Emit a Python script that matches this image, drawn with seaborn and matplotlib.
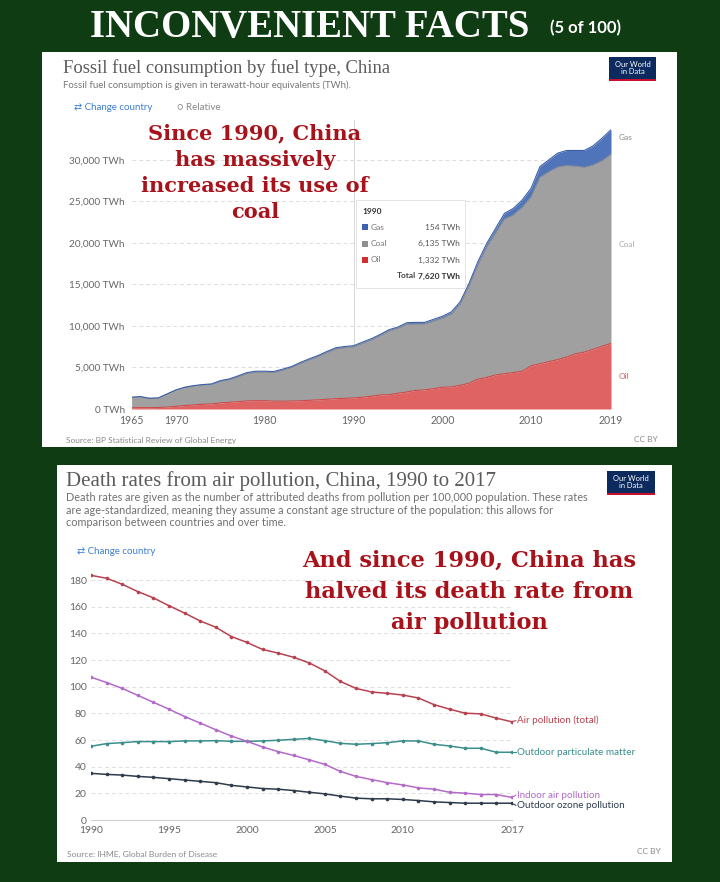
import numpy as np
import pandas as pd
import matplotlib
matplotlib.use("Agg")
import matplotlib.pyplot as plt
import seaborn as sns
from matplotlib.patches import Rectangle

sns.set_theme(style="white")
plt.rcParams['font.family'] = ['Lato', 'DejaVu Sans']

# ---------------- data: fossil fuel consumption (TWh) ----------------
fuel_years = list(range(1965, 2020))
oil_twh = [150, 170, 160, 180, 240, 330, 420, 490, 570, 620,
           730, 810, 880, 980, 1000, 1000, 950, 940, 960, 990,
           1050, 1100, 1170, 1250, 1290, 1332, 1420, 1540, 1690, 1730,
           1900, 2050, 2250, 2300, 2450, 2620, 2660, 2850, 3100, 3600,
           3800, 4100, 4250, 4400, 4550, 5200, 5450, 5700, 5950, 6250,
           6650, 6850, 7200, 7550, 7900]
coal_twh = [1250, 1308, 1118, 1138, 1555, 1945, 2165, 2285, 2315, 2330,
            2605, 2710, 2990, 3275, 3410, 3410, 3435, 3730, 4030, 4485,
            4860, 5205, 5620, 5975, 6090, 6135, 6470, 6760, 7120, 7650,
            7795, 8150, 7980, 7930, 8120, 8290, 8740, 9740, 11660, 13720,
            15670, 17090, 18610, 18960, 19740, 20320, 22450, 22850, 23180, 23050,
            22580, 22250, 22170, 22340, 22770]
gas_twh = [10, 12, 12, 12, 15, 25, 35, 45, 55, 70,
           85, 100, 120, 135, 140, 140, 125, 120, 120, 125,
           130, 135, 140, 145, 150, 154, 160, 160, 170, 170,
           175, 190, 200, 200, 220, 250, 280, 300, 340, 400,
           470, 560, 700, 800, 880, 1060, 1300, 1450, 1680, 1830,
           1900, 2030, 2330, 2730, 2960]
fuel_names = ["Oil", "Coal", "Gas"]
fuel_xticks = [1965, 1970, 1980, 1990, 2000, 2010, 2019]
fuel_yticks = [0, 5000, 10000, 15000, 20000, 25000, 30000]
fuel_ytick_labels = ["0 TWh", "5,000 TWh", "10,000 TWh", "15,000 TWh",
                     "20,000 TWh", "25,000 TWh", "30,000 TWh"]
tooltip_rows = [("Gas", "154 TWh"), ("Coal", "6,135 TWh"), ("Oil", "1,332 TWh")]
tooltip_total = "7,620 TWh"

# ---------------- data: death rates per 100,000 ----------------
death_years = list(range(1990, 2018))
air_total = [183.5, 181.3, 176.8, 171.3, 166.6, 160.7, 155.2, 149.3, 144.6, 137.6,
             133.2, 127.9, 125.2, 122.0, 117.8, 111.8, 103.9, 98.7, 96.0, 95.0,
             93.7, 91.5, 86.5, 83.1, 80.1, 79.6, 76.4, 73.6]
indoor_air = [107.1, 103.1, 98.7, 93.5, 88.3, 83.1, 77.6, 72.7, 67.7, 63.0,
              59.0, 54.8, 51.3, 48.4, 45.1, 41.7, 36.4, 32.7, 30.3, 28.0,
              26.3, 24.1, 23.1, 20.8, 20.1, 19.1, 19.1, 16.9]
outdoor_pm = [55.3, 57.3, 58.0, 58.8, 58.8, 58.8, 59.3, 59.3, 59.5, 59.0,
              59.0, 59.3, 59.8, 60.5, 61.2, 59.5, 57.5, 56.8, 57.3, 58.0,
              59.3, 59.3, 56.8, 55.5, 53.8, 53.8, 50.8, 50.8]
outdoor_ozone = [35.0, 34.2, 33.7, 32.7, 32.0, 31.0, 30.0, 29.0, 28.0, 26.0,
                 24.8, 23.6, 23.1, 22.1, 20.8, 19.6, 17.9, 16.4, 15.9, 15.9,
                 15.4, 14.6, 13.6, 13.1, 12.6, 12.6, 12.6, 12.6]
death_names = ["Air pollution (total)", "Outdoor particulate matter",
               "Indoor air pollution", "Outdoor ozone pollution"]
death_xticks = [1990, 1995, 2000, 2005, 2010, 2017]
death_yticks = [0, 20, 40, 60, 80, 100, 120, 140, 160, 180]

# ---------------- figure ----------------
W, H = 720, 882
BG = '#0f3c13'
fig = plt.figure(figsize=(7.2, 8.82), dpi=100, facecolor=BG)


def fx(x):
    return x / W


def fy(y):
    return 1 - y / H


def T(x, y, s, **kw):
    kw.setdefault('va', 'center')
    return fig.text(fx(x), fy(y), s, **kw)


def panel(x0, y0, x1, y1, color='white', z=-1):
    fig.add_artist(Rectangle((fx(x0), fy(y1)), (x1 - x0) / W, (y1 - y0) / H,
                             transform=fig.transFigure, facecolor=color,
                             edgecolor='none', zorder=z))


def logo(x0, y0, x1, y1):
    panel(x0, y0, x1, y1, '#0c2a5e', z=2)
    panel(x0, y1 - 2, x1, y1, '#c8102e', z=3)
    T((x0 + x1) / 2, (y0 + y1) / 2 - 1, "Our World\nin Data", color='white',
      fontsize=5.4, ha='center', linespacing=0.95, zorder=4)


SERIF = ['Liberation Serif', 'DejaVu Serif']
WIDE_SERIF = ['DejaVu Serif']
RED_TXT = '#a8121a'
GREY_T = '#5b5b5b'

# header
T(310, 28, "INCONVENIENT FACTS", color='white', fontsize=28, fontweight='bold',
  family=SERIF, ha='center')
T(585, 28, "(5 of 100)", color='white', fontsize=12, fontweight='bold', ha='center')

# ================= top panel =================
panel(42, 52, 677, 447)
logo(609, 57, 656, 81)
T(63, 68, "Fossil fuel consumption by fuel type, China", family=SERIF,
  fontsize=13.4, color=GREY_T)
T(63, 85, "Fossil fuel consumption is given in terawatt-hour equivalents (TWh).",
  fontsize=6.9, color='#777777')
T(74, 108, "⇄ Change country", fontsize=7, color='#3d7fd0')
T(177, 108, "○ Relative", fontsize=7, color='#888888')
T(66, 440, "Source: BP Statistical Review of Global Energy", fontsize=6, color='#8a8a8a')
T(658, 439, "CC BY", fontsize=6, color='#8a8a8a', ha='right')

ax1 = fig.add_axes([fx(131.6), fy(409), (611 - 131.6) / W, (409 - 120) / H])
ax1.set_facecolor('none')
c_oil, c_coal, c_gas = '#e06363', '#a0a0a0', '#4f74b9'
ax1.stackplot(fuel_years, oil_twh, coal_twh, gas_twh,
              colors=[c_oil, c_coal, c_gas], linewidth=0, zorder=2)
cum_oil = np.array(oil_twh)
cum_coal = cum_oil + np.array(coal_twh)
cum_gas = cum_coal + np.array(gas_twh)
edges = pd.DataFrame({'year': fuel_years * 3,
                      'value': np.concatenate([cum_oil, cum_coal, cum_gas]),
                      'fuel': sum([[n] * len(fuel_years) for n in fuel_names], [])})
sns.lineplot(data=edges, x='year', y='value', hue='fuel', ax=ax1,
             palette={'Oil': '#d04a4a', 'Coal': '#8e8e8e', 'Gas': '#3c5fa6'},
             linewidth=0.8, legend=False, zorder=3)
ax1.set_xlim(1965, 2019)
ax1.set_ylim(0, 34800)
ax1.set_yticks(fuel_yticks, labels=fuel_ytick_labels)
ax1.set_xticks(fuel_xticks, labels=[str(v) for v in fuel_xticks])
ax1.tick_params(axis='y', labelsize=7.2, labelcolor='#666666', length=0, pad=5)
ax1.tick_params(axis='x', labelsize=7.6, labelcolor='#666666', length=0, pad=4)
for yv in fuel_yticks[1:]:
    ax1.axhline(yv, color='#dcdcdc', lw=0.7, ls=(0, (4, 3)), zorder=1)
ax1.axvline(1990, color='#d8d8d8', lw=0.7, zorder=1)
for s in ax1.spines.values():
    s.set_visible(False)
ax1.set_xlabel('')
ax1.set_ylabel('')
# end labels
ax1.text(2019.9, cum_gas[-1] - 900, "Gas", fontsize=6, color='#8a8a8a', va='center', clip_on=False)
ax1.text(2019.9, (cum_oil[-1] + cum_coal[-1]) / 2 + 500, "Coal", fontsize=6, color='#aaaaaa', va='center', clip_on=False)
ax1.text(2019.9, cum_oil[-1] / 2, "Oil", fontsize=6, color='#d06060', va='center', clip_on=False)

# annotation
for i, line in enumerate(["Since 1990, China", "has massively",
                          "increased its use of", "coal"]):
    T(255, 133 + i * 26.5, line, family=WIDE_SERIF, fontsize=15, fontweight='bold',
      color=RED_TXT, ha='center', zorder=6)

# tooltip
fig.add_artist(Rectangle((fx(356), fy(288)), (465 - 356) / W, (288 - 200) / H,
                         transform=fig.transFigure, facecolor='white',
                         edgecolor='#e4e4e4', lw=0.7, zorder=5))
T(362, 212, "1990", fontsize=6, fontweight='bold', color='#333333', zorder=6)
sq_colors = {'Gas': '#3d63b0', 'Coal': '#8f8f8f', 'Oil': '#d03030'}
for i, (name, val) in enumerate(tooltip_rows):
    yy = 227 + i * 16.5
    panel(362, yy - 3, 368, yy + 3, sq_colors[name], z=6)
    T(371, yy, name, fontsize=6, color='#777777', zorder=6)
    T(460, yy, val, fontsize=6, color='#555555', ha='right', zorder=6)
T(416, 276, "Total", fontsize=6, fontweight='bold', color='#444444', ha='right', zorder=6)
T(460, 276, tooltip_total, fontsize=6, fontweight='bold', color='#333333', ha='right', zorder=6)

# ================= bottom panel =================
panel(57, 465, 672, 862)
logo(607, 471, 655, 495)
T(66, 481, "Death rates from air pollution, China, 1990 to 2017", family=SERIF,
  fontsize=15, color=GREY_T)
sub = ["Death rates are given as the number of attributed deaths from pollution per 100,000 population. These rates",
       "are age-standardized, meaning they assume a constant age structure of the population: this allows for",
       "comparison between countries and over time."]
for i, line in enumerate(sub):
    T(66, 498 + i * 12, line, fontsize=7.8, color='#707070')
T(77, 551, "⇄ Change country", fontsize=7, color='#3d7fd0')
T(67, 854, "Source: IHME, Global Burden of Disease", fontsize=6.1, color='#8a8a8a')
T(661, 851, "CC BY", fontsize=6, color='#8a8a8a', ha='right')

ax2 = fig.add_axes([fx(91), fy(820), (512 - 91) / W, (820 - 570) / H])
ax2.set_facecolor('none')
death_df = pd.DataFrame({
    'year': death_years * 4,
    'rate': air_total + outdoor_pm + indoor_air + outdoor_ozone,
    'series': sum([[n] * len(death_years) for n in death_names], [])})
death_pal = {"Air pollution (total)": '#b8424f',
             "Outdoor particulate matter": '#3a8f8b',
             "Indoor air pollution": '#b36ac8',
             "Outdoor ozone pollution": '#2f3b4c'}
sns.lineplot(data=death_df, x='year', y='rate', hue='series', palette=death_pal,
             marker='o', markersize=2.6, markeredgewidth=0, linewidth=1.1,
             legend=False, ax=ax2, zorder=3)
ax2.set_xlim(1990, 2017)
ax2.set_ylim(0, 187.5)
ax2.set_yticks(death_yticks, labels=[str(v) for v in death_yticks])
ax2.set_xticks(death_xticks, labels=[str(v) for v in death_xticks])
ax2.tick_params(axis='y', labelsize=7.5, labelcolor='#666666', length=0, pad=3)
ax2.tick_params(axis='x', labelsize=7.5, labelcolor='#666666', length=0, pad=4)
for yv in death_yticks[1:]:
    ax2.axhline(yv, color='#e0e0e0', lw=0.7, ls=(0, (4, 3)), zorder=1)
for s in ['top', 'right', 'left']:
    ax2.spines[s].set_visible(False)
ax2.spines['bottom'].set_color('#cfcfcf')
ax2.spines['bottom'].set_linewidth(0.8)
ax2.set_xlabel('')
ax2.set_ylabel('')
label_offsets = {"Air pollution (total)": 1.0, "Outdoor particulate matter": 0.0,
                 "Indoor air pollution": 1.8, "Outdoor ozone pollution": -1.6}
for name, vals in zip(death_names, [air_total, outdoor_pm, indoor_air, outdoor_ozone]):
    ly = vals[-1] + label_offsets[name]
    ax2.plot([2017, 2017.25], [vals[-1], ly], color=death_pal[name], lw=0.8, clip_on=False)
    ax2.text(2017.3, ly, name, fontsize=7.1, color=death_pal[name], va='center', clip_on=False)

for i, line in enumerate(["And since 1990, China has", "halved its death rate from",
                          "air pollution"]):
    T(469, 561 + i * 31, line, family=WIDE_SERIF, fontsize=16.2, fontweight='bold',
      color=RED_TXT, ha='center', zorder=6)

fig.savefig("out.png", dpi=100, facecolor=BG)
